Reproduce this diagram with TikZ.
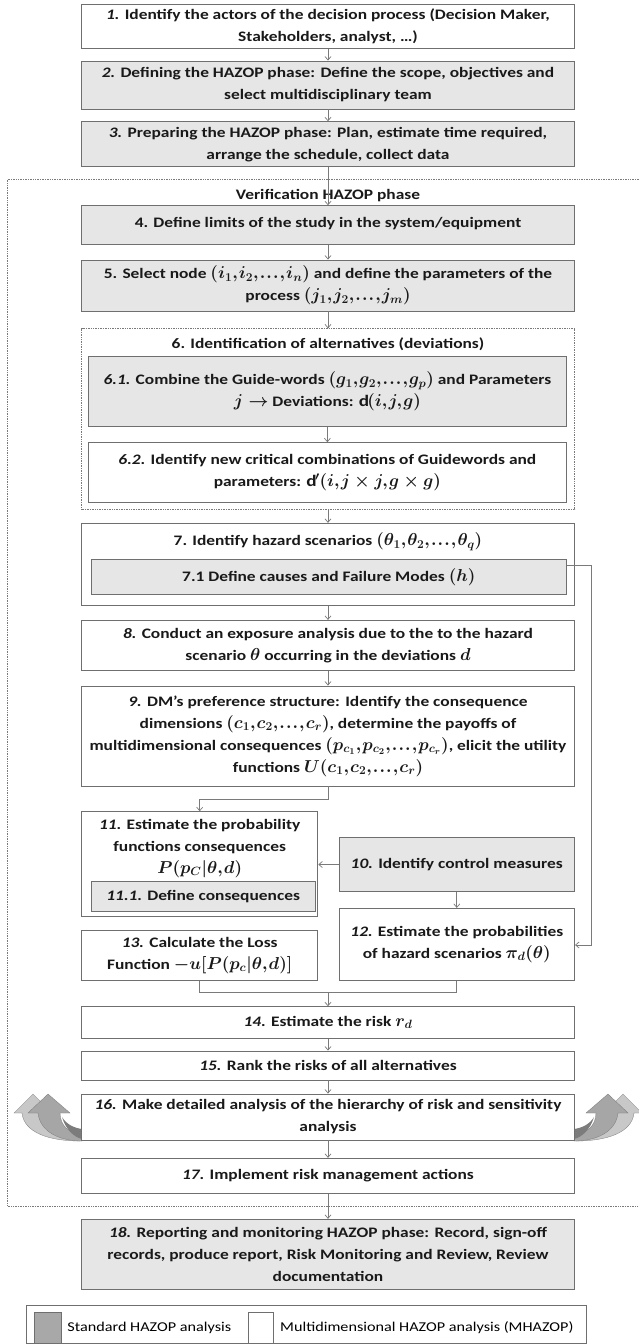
\documentclass[tikz,border=0pt]{standalone}
\usepackage{fontspec}
\setmainfont{Carlito}[FakeStretch=1.2]
\DeclareMathSizes{14.5}{16}{11.5}{9}
\usetikzlibrary{arrows.meta}
\definecolor{boxgray}{HTML}{E6E6E6}
\definecolor{edgegray}{HTML}{6F6F6F}
\definecolor{linegray}{HTML}{7A7A7A}
\definecolor{keygray}{HTML}{A8A8A8}
\definecolor{arrowlight}{HTML}{C8C8C8}
\definecolor{arrowmid}{HTML}{A6A6A6}
\definecolor{arrowdark}{HTML}{7C7C7C}
\newcommand{\stepno}[1]{\textit{#1}}
\newcommand{\boxfont}{\fontsize{14.5}{22}\selectfont\bfseries\boldmath\thinmuskip=1mu}
% pair of curved "feedback" arrows beside step 16 (left side; mirrored for the right)
\newcommand{\loopbackpair}{%
  \fill[arrowlight, draw=linegray, line width=0.3pt]
    (22,1113) .. controls (24,1133) and (50,1141) .. (80,1141)
    -- (80,1136) .. controls (60,1136) and (44,1128) .. (44,1113)
    -- (52,1113) -- (33,1094) -- (14,1113) -- cycle;
  \fill[arrowmid, draw=linegray, line width=0.3pt]
    (38,1113) .. controls (40,1132) and (60,1141) .. (82,1141)
    -- (82,1134) .. controls (70,1134) and (60,1126) .. (60,1113)
    -- (70,1113) -- (48,1094) -- (28,1113) -- cycle;
  \fill[arrowdark]
    (62,1117) .. controls (66,1130) and (74,1137) .. (82,1139)
    -- (82,1129) .. controls (74,1128) and (66,1124) .. cycle;
}
\begin{document}
\begin{tikzpicture}[x=1pt,y=-1pt,
  stage/.style={draw=edgegray, line width=0.9pt, fill=white, inner sep=0pt,
    align=center, font=\boxfont, text=black!90},
  std/.style={stage, fill=boxgray},
  label/.style={inner sep=0pt, align=center, font=\boxfont, text=black!90},
  conn/.style={draw=linegray, line width=0.7pt},
  arr/.style={conn, -{Straight Barb[length=3.5pt,width=6pt]}},
  frame/.style={draw=linegray, line width=0.7pt, densely dotted}]
\useasboundingbox (0,0) rectangle (639,1344);
\fill[white] (0,0) rectangle (639,1344);

% phase frame of the verification stage
\draw[frame] (639,179) -- (7.3,179) -- (7.3,1206) -- (639,1206);

% feedback arrows around step 16
\loopbackpair
\begin{scope}[xshift=656pt, xscale=-1]
  \loopbackpair
\end{scope}

% steps 1-3
\node[stage, minimum width=493, minimum height=43.6] (b1) at (328,26.5)
  {\stepno{1.} Identify the actors of the decision process (Decision Maker,\\ Stakeholders, analyst, \ldots)};
\node[std, minimum width=493, minimum height=48] (b2) at (328,85)
  {\stepno{2.} Defining the HAZOP phase: Define the scope, objectives and\\ select multidisciplinary team};
\node[std, minimum width=493, minimum height=45] (b3) at (328,144.2)
  {\stepno{3.} Preparing the HAZOP phase: Plan, estimate time required,\\ arrange the schedule, collect data};

% verification phase
\node[label] (vt) at (328,195.7) {Verification HAZOP phase};
\node[std, minimum width=493, minimum height=38.6] (b4) at (328,225)
  {\raisebox{5pt}{4. Define limits of the study in the system/equipment}};
\node[std, minimum width=493, minimum height=51] (b5) at (328,285.5)
  {5. Select node $(i_1,i_2,\ldots,i_n)$ and define the parameters of the\\ process $(j_1,j_2,\ldots,j_m)$};

\node[frame, minimum width=493, minimum height=180.3, inner sep=0pt] (b6) at (328,418.9) {};
\node[label] (t6) at (328,344.3) {6. Identification of alternatives (deviations)};
\node[std, minimum width=478, minimum height=70.7] (b61) at (327.4,391.3)
  {\stepno{6.1.} Combine the Guide-words $\left(g_1,g_2,\ldots,g_p\right)$ and Parameters\\ $j\rightarrow$ Deviations: $\mathrm{d}(i,j,g)$};
\node[stage, minimum width=478, minimum height=60] (b62) at (327.4,472.7)
  {\stepno{6.2.} Identify new critical combinations of Guidewords and\\ parameters: $\mathrm{d}'(i,j\times j,g\times g)$};

\node[stage, minimum width=493, minimum height=82.4] (b7) at (328,564.5) {};
\node[label] (t7) at (328,541.7) {7. Identify hazard scenarios $\left(\theta_1,\theta_2,\ldots,\theta_q\right)$};
\node[std, minimum width=475, minimum height=35.3] (b71) at (328.8,576.7)
  {7.1 Define causes and Failure Modes $(h)$};

\node[stage, minimum width=493, minimum height=49.7] (b8) at (328,645.2)
  {\stepno{8.} Conduct an exposure analysis due to the to the hazard\\ scenario $\theta$ occurring in the deviations $d$};
\node[stage, minimum width=493, minimum height=100] (b9) at (328,736)
  {\stepno{9.} DM's preference structure: Identify the consequence\\
   dimensions $(c_1,c_2,\ldots,c_r)$, determine the payoffs of\\
   multidimensional consequences $\left(p_{c_1},p_{c_2},\ldots,p_{c_r}\right)$, elicit the utility\\
   functions $U(c_1,c_2,\ldots,c_r)$};

\node[stage, minimum width=236.3, minimum height=105] (b11) at (199.7,864.2) {};
\node[label] (t11) at (199.7,848.3)
  {\stepno{11.} Estimate the probability\\ functions consequences\\ $P(p_C|\theta,d)$};
\node[std, minimum width=223.7, minimum height=30] (b111) at (203.2,896.7)
  {\stepno{11.1.} Define consequences};
\node[std, minimum width=235.6, minimum height=54.4] (b10) at (456.8,864.5)
  {\stepno{10.} Identify control measures};
\node[stage, minimum width=235.6, minimum height=71.7] (b12) at (456.8,944.2)
  {\stepno{12.} Estimate the probabilities\\ of hazard scenarios $\pi_d(\theta)$};
\node[stage, minimum width=236.3, minimum height=50.7] (b13) at (199.7,955.3)
  {\stepno{13.} Calculate the Loss\\ Function $-u[P(p_c|\theta,d)]$};

\node[stage, minimum width=493, minimum height=31.6] (b14) at (328,1022.5)
  {\stepno{14.} Estimate the risk $r_d$};
\node[stage, minimum width=493, minimum height=29] (b15) at (328,1065.5)
  {\stepno{15.} Rank the risks of all alternatives};
\node[stage, minimum width=493, minimum height=46] (b16) at (328,1117)
  {\stepno{16.} Make detailed analysis of the hierarchy of risk and sensitivity\\ analysis};
\node[stage, minimum width=493, minimum height=35] (b17) at (328,1175.8)
  {\stepno{17.} Implement risk management actions};
\node[std, minimum width=493, minimum height=70] (b18) at (328,1254.3)
  {\stepno{18.} Reporting and monitoring HAZOP phase: Record, sign-off\\
   records, produce report, Risk Monitoring and Review, Review\\ documentation};

% connectors
\draw[arr] (b1.south) -- (b2.north);
\draw[arr] (b2.south) -- (b3.north);
\draw[arr] (b3.south) -- (b4.north);
\draw[arr] (b4.south) -- (b5.north);
\draw[arr] (b5.south) -- (b6.north);
\draw[arr] (b61.south) -- (b62.north);
\draw[arr] (b6.south) -- (b7.north);
\draw[arr] (b7.south) -- (b8.north);
\draw[arr] (b8.south) -- (b9.north);
\coordinate (e9) at (328,799.3);
\draw[arr] (b9.south) -- (e9) -| (b11.north);
\draw[arr] (b10.west) -- (b11.east |- b10.west);
\draw[arr] (b10.south) -- (b12.north);
\coordinate (r1) at (591.7,565);
\coordinate (r2) at (591.7,945);
\draw[arr] (b71.east |- r1) -- (r1) -- (r2) -- (b12.east |- r2);
\coordinate (m14) at (328,992.7);
\draw[conn] (b13.south) |- (m14);
\draw[conn] (b12.south) |- (m14);
\draw[arr] (m14) -- (b14.north);
\draw[arr] (b14.south) -- (b15.north);
\draw[arr] (b15.south) -- (b16.north);
\draw[arr] (b16.south) -- (b17.north);
\draw[arr] (b17.south) -- (b18.north);

% legend
\node[draw=edgegray, line width=0.8pt, minimum width=559.5, minimum height=38.5, inner sep=0pt] (key) at (306.25,1324.25) {};
\node[draw=edgegray, line width=0.6pt, fill=keygray, minimum width=26.4, minimum height=30.5, inner sep=0pt] (ks) at (47.8,1328) {};
\node[draw=edgegray, line width=0.6pt, fill=white, minimum width=25.2, minimum height=30.5, inner sep=0pt] (km) at (260.4,1328) {};
\node[anchor=west, inner sep=0pt, font=\fontsize{13.5}{16}\selectfont] (kst) at (67.2,1328) {Standard HAZOP analysis};
\node[anchor=west, inner sep=0pt, font=\fontsize{13.5}{16}\selectfont] (kmt) at (280,1328) {Multidimensional HAZOP analysis (MHAZOP)};
\end{tikzpicture}
\end{document}
